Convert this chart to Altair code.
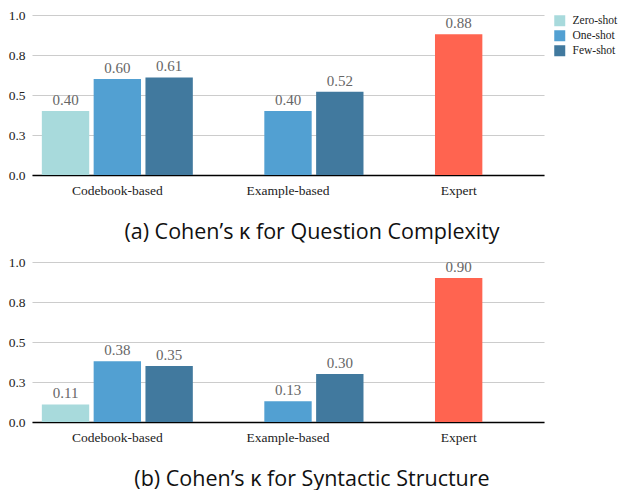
import altair as alt
import pandas as pd

methods = ["Codebook-based", "Codebook-based", "Codebook-based",
           "Example-based", "Example-based", "Expert"]
settings = ["Zero-shot", "One-shot", "Few-shot", "One-shot", "Few-shot", "One-shot"]
series = ["Zero-shot", "One-shot", "Few-shot", "One-shot", "Few-shot", "Expert"]
question_complexity = [0.40, 0.60, 0.61, 0.40, 0.52, 0.88]
syntactic_structure = [0.11, 0.38, 0.35, 0.13, 0.30, 0.90]

method_order = ["Codebook-based", "Example-based", "Expert"]
setting_order = ["Zero-shot", "One-shot", "Few-shot"]
series_domain = ["Zero-shot", "One-shot", "Few-shot", "Expert"]
series_colors = ["#A8DADC", "#52A0D2", "#41799E", "#FF6450"]
y_ticks = [0, 0.25, 0.5, 0.75, 1.0]

titles = ["(a) Cohen\u2019s \u03ba for Question Complexity",
          "(b) Cohen\u2019s \u03ba for Syntactic Structure"]

SERIF = "Liberation Serif"


def panel(values, title):
    df = pd.DataFrame({"method": methods, "setting": settings,
                       "series": series, "kappa": values})
    base = alt.Chart(df).encode(
        x=alt.X("method:N", sort=method_order,
                scale=alt.Scale(paddingInner=0, paddingOuter=0),
                axis=alt.Axis(title=None, labelAngle=0, ticks=False, grid=False,
                              domainColor="#000000", domainWidth=1.5,
                              labelPadding=8)),
        xOffset=alt.XOffset("setting:N", sort=setting_order,
                            scale=alt.Scale(paddingInner=0.0857, paddingOuter=0.19)),
        y=alt.Y("kappa:Q", scale=alt.Scale(domain=[0, 1], nice=False),
                axis=alt.Axis(title=None, values=y_ticks, format=".1f",
                              domain=False, ticks=False, gridColor="#cccccc",
                              gridWidth=1.2, labelPadding=7)),
    )
    bars = base.mark_bar().encode(
        color=alt.Color("series:N",
                        scale=alt.Scale(domain=series_domain, range=series_colors),
                        legend=alt.Legend(values=setting_order, title=None,
                                          symbolType="square", symbolSize=121,
                                          symbolStrokeWidth=0,
                                          labelOffset=7, rowPadding=2,
                                          offset=10, padding=0))
    )
    text = base.mark_text(baseline="bottom", dy=-3, color="#666666",
                          font=SERIF, fontSize=15).encode(
        text=alt.Text("kappa:Q", format=".2f"))
    return (bars + text).properties(
        width=512, height=160,
        title=alt.TitleParams(title, orient="bottom", font="Open Sans", fontSize=21.5,
                              fontWeight="normal", color="#111", dx=24, offset=25))


chart = alt.vconcat(
    panel(question_complexity, titles[0]),
    panel(syntactic_structure, titles[1]),
    spacing=12,
).properties(
    padding={"left": 0, "top": 0, "right": 0, "bottom": 0}
).configure_view(
    stroke=None
).configure_axis(
    labelFont=SERIF, labelFontSize=13.5, labelColor="#222222"
).configure_legend(
    labelFont=SERIF, labelFontSize=11.5, labelColor="#222222"
)

chart.save("out.html", embed_options={"renderer": "svg", "actions": False})
